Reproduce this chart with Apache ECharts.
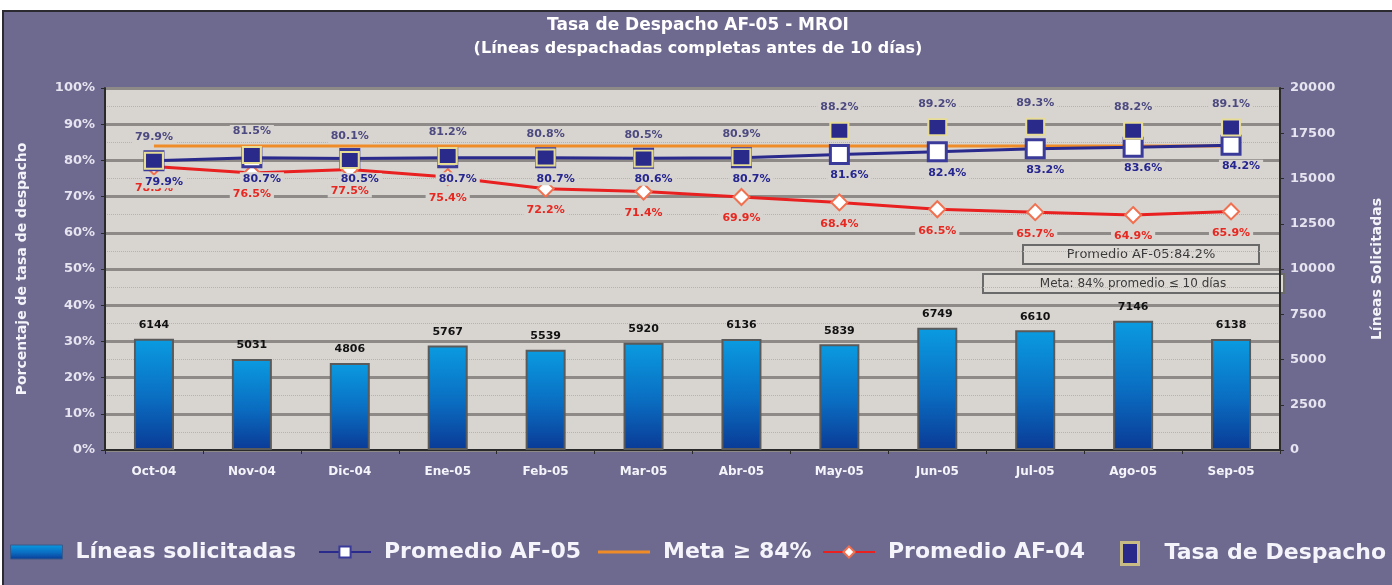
<!DOCTYPE html>
<html><head><meta charset="utf-8">
<script src="https://cdn.jsdelivr.net/npm/echarts@6/dist/echarts.min.js"></script>
<style>
html,body{margin:0;padding:0;background:#fff;width:1392px;height:585px;overflow:hidden}
#wrap{position:absolute;left:2px;top:10px;width:1390px;height:575px;border-top:2px solid #2a2a30;border-left:2px solid #2a2a30;box-sizing:border-box;background:#6E698F}
#chart{width:1388px;height:573px}
</style></head><body><div id="wrap"><div id="chart"></div></div>
<script>
const categories = ['Oct-04','Nov-04','Dic-04','Ene-05','Feb-05','Mar-05','Abr-05','May-05','Jun-05','Jul-05','Ago-05','Sep-05'];
const lineasSolicitadas = [6144,5031,4806,5767,5539,5920,6136,5839,6749,6610,7146,6138];
const promedioAF05 = [79.9,80.7,80.5,80.7,80.7,80.6,80.7,81.6,82.4,83.2,83.6,84.2];
const metaValues = [84,84,84,84,84,84,84,84,84,84,84,84];
const promedioAF04 = [78.3,76.5,77.5,75.4,72.2,71.4,69.9,68.4,66.5,65.7,64.9,65.9];
const tasaDespacho = [79.9,81.5,80.1,81.2,80.8,80.5,80.9,88.2,89.2,89.3,88.2,89.1];
const seriesNames = ['Líneas solicitadas','Promedio AF-05','Meta ≥ 84%','Promedio AF-04','Tasa de Despacho'];
const leftAxis = {min:0,max:100,interval:10};
const rightAxis = {min:0,max:20000,interval:2500};

const FONT = 'DejaVu Sans';
const PLOT_BG = '#D8D4D0';
const pct = p => p.value.toFixed(1) + '%';
const labelBase = {show:true, fontFamily:FONT, fontWeight:'bold', fontSize:11, backgroundColor:PLOT_BG, padding:[1,3]};

const chart = echarts.init(document.getElementById('chart'));
function legendText(pad){ return {color:'#F4F4FA', fontFamily:FONT, fontWeight:'bold', fontSize:22, padding:[0,0,0,pad]}; }
function mkLegend(item, left, extra){
  return Object.assign({data:[item], left:left, top:529, padding:0, itemWidth:52, itemHeight:14, textStyle:legendText(8), selectedMode:false}, extra||{});
}
chart.setOption({
  animation:false,
  title:[
    {text:'Tasa de Despacho AF-05 - MROI', left:'center', top:0, textStyle:{color:'#FFFFFF', fontFamily:FONT, fontWeight:'bold', fontSize:17}},
    {text:'(Líneas despachadas completas antes de 10 días)', left:'center', top:24, textStyle:{color:'#FFFFFF', fontFamily:FONT, fontWeight:'bold', fontSize:16}}
  ],
  grid:{left:101, top:76, right:104, bottom:135, show:true, backgroundColor:PLOT_BG, borderWidth:0},
  legend:[
    mkLegend({name:seriesNames[0], icon:'rect', itemStyle:{borderColor:'#3A5A8A', borderWidth:1}}, 6),
    mkLegend({name:seriesNames[1]}, 314),
    mkLegend({name:seriesNames[2], icon:'rect'}, 594, {itemHeight:3}),
    mkLegend({name:seriesNames[3]}, 818),
    mkLegend({name:seriesNames[4], icon:'rect', itemStyle:{color:'#2A2A8A', borderColor:'#C8BC84', borderWidth:3}}, 1116, {itemWidth:17, itemHeight:22, textStyle:legendText(21)})
  ],
  xAxis:{type:'category', data:categories, boundaryGap:true,
    axisLine:{lineStyle:{color:'#2a2a2a', width:2}},
    axisTick:{show:true, length:4, lineStyle:{color:'#2a2a2a'}},
    axisLabel:{color:'#F4F4FA', fontFamily:FONT, fontWeight:'bold', fontSize:12, margin:16}},
  yAxis:[
    {type:'value', min:leftAxis.min, max:leftAxis.max, interval:leftAxis.interval,
     name:'Porcentaje de tasa de despacho', nameLocation:'middle', nameRotate:90, nameGap:76,
     nameTextStyle:{color:'#F4F4FA', fontFamily:FONT, fontWeight:'bold', fontSize:14},
     axisLine:{show:true, lineStyle:{color:'#2a2a2a', width:2}},
     axisTick:{show:true, length:4, lineStyle:{color:'#2a2a2a'}},
     axisLabel:{color:'#E6E4F0', fontFamily:FONT, fontWeight:'bold', fontSize:13, margin:10, formatter:'{value}%'},
     splitLine:{show:true, lineStyle:{color:'#8E8A88', width:3}},
     minorTick:{show:false, splitNumber:2},
     minorSplitLine:{show:true, lineStyle:{color:'#B4B0C4', width:1, type:'dotted'}}},
    {type:'value', min:rightAxis.min, max:rightAxis.max, interval:rightAxis.interval, position:'right',
     name:'Líneas Solicitadas', nameLocation:'middle', nameRotate:90, nameGap:90,
     nameTextStyle:{color:'#F4F4FA', fontFamily:FONT, fontWeight:'bold', fontSize:14},
     axisLine:{show:true, lineStyle:{color:'#2a2a2a', width:2}},
     axisTick:{show:true, length:4, lineStyle:{color:'#2a2a2a'}},
     axisLabel:{color:'#E6E4F0', fontFamily:FONT, fontWeight:'bold', fontSize:13, margin:10, formatter:v => String(v)},
     splitLine:{show:false}}
  ],
  series:[
    {name:seriesNames[0], type:'bar', yAxisIndex:1, data:lineasSolicitadas, barWidth:40, z:1,
     itemStyle:{color:new echarts.graphic.LinearGradient(0,0,0,1,[{offset:0,color:'#0A9BE0'},{offset:0.55,color:'#0A6CC0'},{offset:1,color:'#0A3A96'}]), borderColor:'#5A5A5A', borderWidth:2},
     label:{show:true, position:'top', distance:8, color:'#111', fontFamily:FONT, fontWeight:'bold', fontSize:11}},
    {name:seriesNames[2], type:'line', data:metaValues, symbol:'none', z:2,
     lineStyle:{color:'#F08C28', width:3}, itemStyle:{color:'#F08C28'}},
    {name:seriesNames[3], type:'line', data:promedioAF04, symbol:'diamond', symbolSize:16, z:3,
     lineStyle:{color:'#E82020', width:3}, itemStyle:{color:'#FFFFFF', borderColor:'#F07050', borderWidth:2},
     label:Object.assign({}, labelBase, {position:'bottom', distance:6, color:'#E82820', formatter:pct})},
    {name:seriesNames[1], type:'line', data:promedioAF05, symbol:'rect', symbolSize:18, z:4,
     lineStyle:{color:'#2A2A8C', width:3}, itemStyle:{color:'#FFFFFF', borderColor:'#3A3A9A', borderWidth:3},
     label:Object.assign({}, labelBase, {position:'bottom', distance:4, offset:[10,0], color:'#262690', formatter:pct})},
    {name:seriesNames[4], type:'line', data:tasaDespacho, symbol:'rect', symbolSize:[18,16], z:5,
     lineStyle:{width:0, opacity:0}, itemStyle:{color:'#2A2A8A', borderColor:'#E6DC96', borderWidth:2},
     label:Object.assign({}, labelBase, {position:'top', distance:8, color:'#4C4A80', formatter:pct})}
  ],
  graphic:[
    {type:'group', left:1018, top:232, children:[
      {type:'rect', shape:{x:0,y:0,width:236,height:19}, style:{fill:'#DCD8D4', stroke:'#6A6A6A', lineWidth:2}},
      {type:'text', style:{x:118, y:10, text:'Promedio AF-05:84.2%', fill:'#3A3A3A', font:'13px "DejaVu Sans"', textAlign:'center', textVerticalAlign:'middle'}}
    ]},
    {type:'group', left:978, top:261, children:[
      {type:'rect', shape:{x:0,y:0,width:301,height:19}, style:{fill:'#DCD8D4', stroke:'#6A6A6A', lineWidth:2}},
      {type:'text', style:{x:150, y:10, text:'Meta: 84% promedio ≤ 10 días', fill:'#3A3A3A', font:'12px "DejaVu Sans"', textAlign:'center', textVerticalAlign:'middle'}}
    ]}
  ]
});
</script></body></html>
